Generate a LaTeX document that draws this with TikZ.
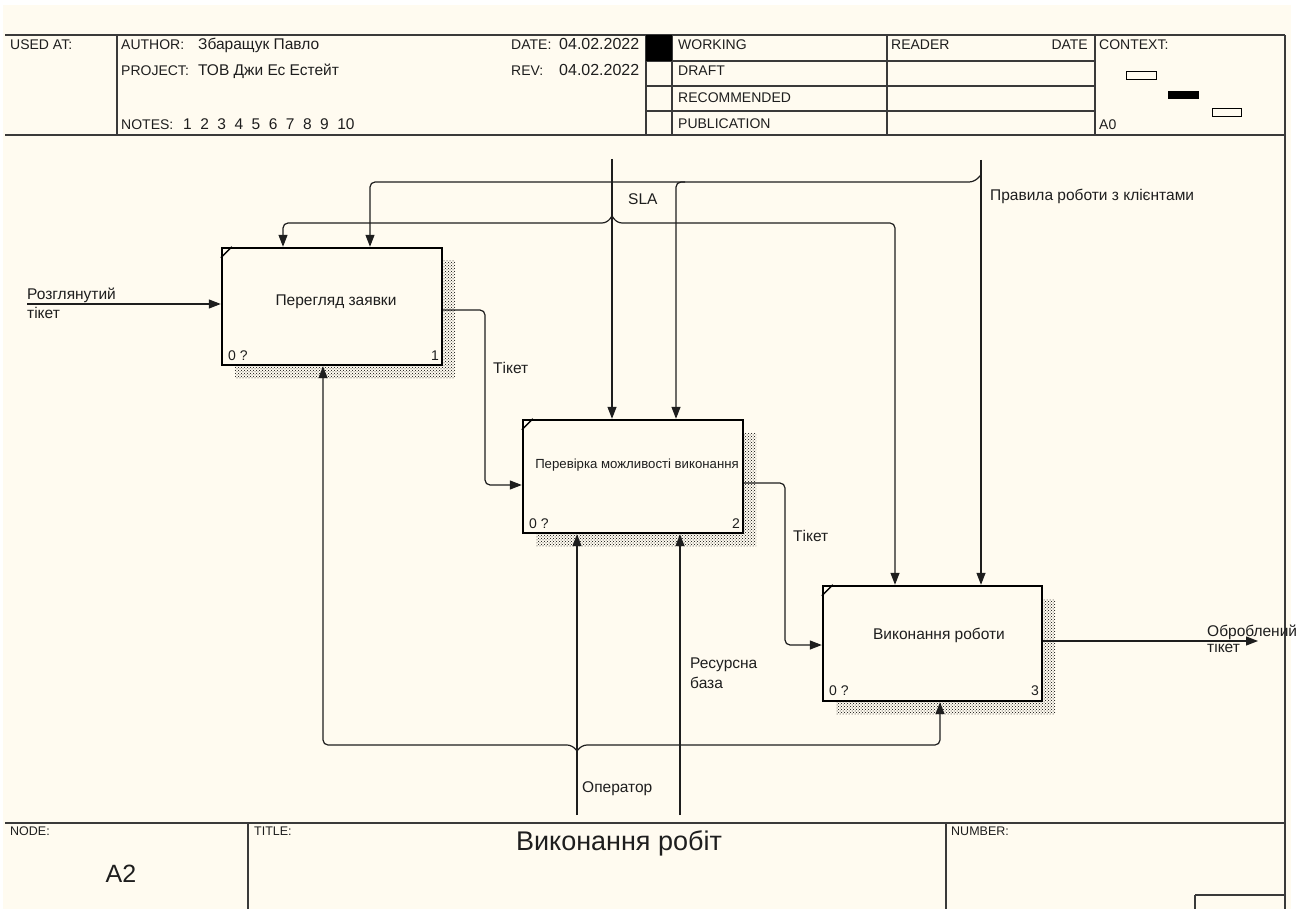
\documentclass[tikz,border=0pt]{standalone}
\usepackage{fontspec}
\setmainfont{Liberation Sans}
\usetikzlibrary{arrows.meta,patterns,calc}
\definecolor{paper}{HTML}{FFFBF0}
\definecolor{ink}{HTML}{1E1E1E}
\definecolor{frame}{HTML}{3A3A3A}
\begin{document}
\begin{tikzpicture}[x=1pt,y=-1pt,
  lbl/.style={font=\fontsize{15.5}{18}\selectfont, inner sep=0pt, anchor=base west, text=ink},
  hdr/.style={font=\fontsize{14}{17}\selectfont, inner sep=0pt, anchor=base west, text=ink},
  hdrv/.style={font=\fontsize{15.5}{18}\selectfont, inner sep=0pt, anchor=base west, text=ink},
  small/.style={font=\fontsize{12.5}{14}\selectfont, inner sep=0pt, anchor=base west, text=ink},
  corner/.style={font=\fontsize{14}{16}\selectfont, inner sep=0pt, anchor=base west, text=ink},
  actbox/.style={draw=black, line width=2.4pt, fill=paper, inner sep=0pt},
  conn/.style={line width=1.2pt, draw=ink, rounded corners=5pt},
  arr/.style={conn, -{Triangle[length=12pt,width=9pt]}},
  shade/.style={pattern=crosshatch dots, pattern color=black},
  frameline/.style={line width=1.4pt, draw=frame},
  cornermark/.style={line width=1.3pt, draw=black}
]
\useasboundingbox (0,0) rectangle (1303,909);
\fill[white] (0,0) rectangle (1303,909);
\fill[paper] (3,5) rectangle (1291,909);

% ---------- header frame ----------
\draw[frameline] (5,35) -- (1285,35);
\draw[frameline] (5,135) -- (1285,135);
\draw[frameline] (117,35) -- (117,135);
\draw[frameline] (646,35) -- (646,135);
\draw[frameline] (672,35) -- (672,135);
\draw[frameline] (887,35) -- (887,135);
\draw[frameline] (1095,35) -- (1095,135);
\draw[frameline] (1285,35) -- (1285,909);
\draw[frameline] (646,61) -- (1095,61);
\draw[frameline] (646,86) -- (1095,86);
\draw[frameline] (646,111) -- (1095,111);
\fill[black] (646,35) rectangle (672,61);
\draw[line width=1pt] (1126,72) rectangle (1156,80);
\fill[black] (1168,91) rectangle (1199,99);
\draw[line width=1pt] (1212,109) rectangle (1241,117);

\node[hdr] (usedat) at (10,50) {USED AT:};
\node[hdr] (author) at (121,50) {AUTHOR:};
\node[hdrv] (authorv) at (198,50) {Збаращук Павло};
\node[hdr] (project) at (121,76) {PROJECT:};
\node[hdrv] (projectv) at (198,76) {ТОВ Джи Ес Естейт};
\node[hdr] (notes) at (121,130) {NOTES:};
\node[hdrv] (notesv) at (183,130) {1\hspace{8.5pt}2\hspace{8.5pt}3\hspace{8.5pt}4\hspace{8.5pt}5\hspace{8.5pt}6\hspace{8.5pt}7\hspace{8.5pt}8\hspace{8.5pt}9\hspace{8.5pt}10};
\node[hdr] (date) at (511,50) {DATE:};
\node[hdrv, font=\fontsize{16}{18}\selectfont] (datev) at (559,50) {04.02.2022};
\node[hdr] (rev) at (511,76) {REV:};
\node[hdrv, font=\fontsize{16}{18}\selectfont] (revv) at (559,76) {04.02.2022};
\node[hdr] (working) at (678,50) {WORKING};
\node[hdr] (draft) at (678,76) {DRAFT};
\node[hdr] (recom) at (678,103) {RECOMMENDED};
\node[hdr] (publ) at (678,129) {PUBLICATION};
\node[hdr] (reader) at (891,50) {READER};
\node[hdr, anchor=base east] (rdate) at (1088,50) {DATE};
\node[hdr] (context) at (1099,50) {CONTEXT:};
\node[hdr] (a0) at (1099,130) {A0};

% ---------- bottom frame ----------
\draw[frameline] (5,823) -- (1285,823);
\draw[frameline] (248,823) -- (248,909);
\draw[frameline] (946,823) -- (946,909);
\draw[frameline] (1195,895) -- (1285,895);
\draw[frameline] (1195,895) -- (1195,909);
\node[small] (nodelbl) at (10,835) {NODE:};
\node[small] (titlelbl) at (254,835) {TITLE:};
\node[small] (numlbl) at (951,835) {NUMBER:};
\node[font=\fontsize{25}{28}\selectfont, inner sep=0pt, text=ink] (nodeval) at (121,874) {A2};
\node[font=\fontsize{27}{30}\selectfont, inner sep=0pt, text=ink] (title) at (619,843) {Виконання робіт};

% ---------- shadows ----------
\fill[shade] (235,261) rectangle (455,378);
\fill[shade] (536,433) rectangle (756,546);
\fill[shade] (836,599) rectangle (1055,714);

% ---------- activity boxes ----------
\node[actbox, minimum width=220pt, minimum height=117pt] (b1) at (332,306.5) {};
\node[actbox, minimum width=220pt, minimum height=113pt] (b2) at (633,476.5) {};
\node[actbox, minimum width=219pt, minimum height=115pt] (b3) at (932.5,643.5) {};

\draw[cornermark] ([yshift=-11pt]b1.north west) -- ([xshift=11pt]b1.north west);
\draw[cornermark] ([yshift=-11pt]b2.north west) -- ([xshift=11pt]b2.north west);
\draw[cornermark] ([yshift=-11pt]b3.north west) -- ([xshift=11pt]b3.north west);

\node[lbl, anchor=center] (b1t) at (336,302) {Перегляд заявки};
\node[lbl, anchor=center, font=\fontsize{13.2}{15}\selectfont] (b2t) at (637,465) {Перевірка можливості виконання};
\node[lbl, anchor=center] (b3t) at (939,635) {Виконання роботи};

\node[corner] (b1z) at (228,360) {0 ?};
\node[corner, anchor=base east] (b1n) at (439,360) {1};
\node[corner] (b2z) at (529,528) {0 ?};
\node[corner, anchor=base east] (b2n) at (740,528) {2};
\node[corner] (b3z) at (829,695) {0 ?};
\node[corner, anchor=base east] (b3n) at (1039,695) {3};

% ---------- inputs / outputs ----------
\coordinate (inL) at (27,304);
\draw[arr] (inL) -- (inL -| b1.west);
\node[lbl] (inLa) at (27,299) {Розглянутий};
\node[lbl] (inLb) at (27,318) {тікет};

\draw[arr] (b1.east |- 0,310) -- (485,310) -- (485,485) -- (b2.west |- 0,485);
\node[lbl] (t1) at (493,373) {Тікет};

\draw[arr] (b2.east |- 0,483) -- (785,483) -- (785,645) -- (b3.west |- 0,645);
\node[lbl] (t2) at (793,541) {Тікет};

\coordinate (outR) at (1258,641);
\draw[arr] (b3.east |- outR) -- (outR);
\node[lbl] (outa) at (1207,636) {Оброблений};
\node[lbl] (outb) at (1207,652) {тікет};

% ---------- controls ----------
\coordinate (slaT) at (612,159);
\coordinate (slaJ) at (612,216);
\draw[arr] (slaT) -- (slaT |- b2.north);
\draw[arr] (slaJ) -- ++(-5,7) -- (283,223) -- (283,0 |- b1.north);
\draw[arr] (slaJ) -- ++(5,7) -- (895,223) -- (895,0 |- b3.north);
\node[lbl] (sla) at (628,205) {SLA};

\coordinate (prT) at (981,160);
\coordinate (prJ) at (981,175);
\draw[arr] (prT) -- (prT |- b3.north);
\draw[arr] (prJ) -- ++(-7,7) -- (370,182) -- (370,0 |- b1.north);
\draw[arr] (685,182) -- (676,182) -- (676,0 |- b2.north);
\node[lbl] (pr) at (990,201) {Правила роботи з клієнтами};

% ---------- mechanisms ----------
\coordinate (opB) at (577,815);
\coordinate (opJ) at (577,751);
\draw[arr] (opB) -- (opB |- b2.south);
\draw[arr] (opJ) -- ++(-5,-6) -- (323,745) -- (323,0 |- b1.south);
\draw[arr] (opJ) -- ++(5,-6) -- (940,745) -- (940,0 |- b3.south);
\node[lbl] (op) at (582,792) {Оператор};

\coordinate (rbB) at (680,815);
\draw[arr] (rbB) -- (rbB |- b2.south);
\node[lbl] (rba) at (690,668) {Ресурсна};
\node[lbl] (rbb) at (690,688) {база};
\end{tikzpicture}
\end{document}
